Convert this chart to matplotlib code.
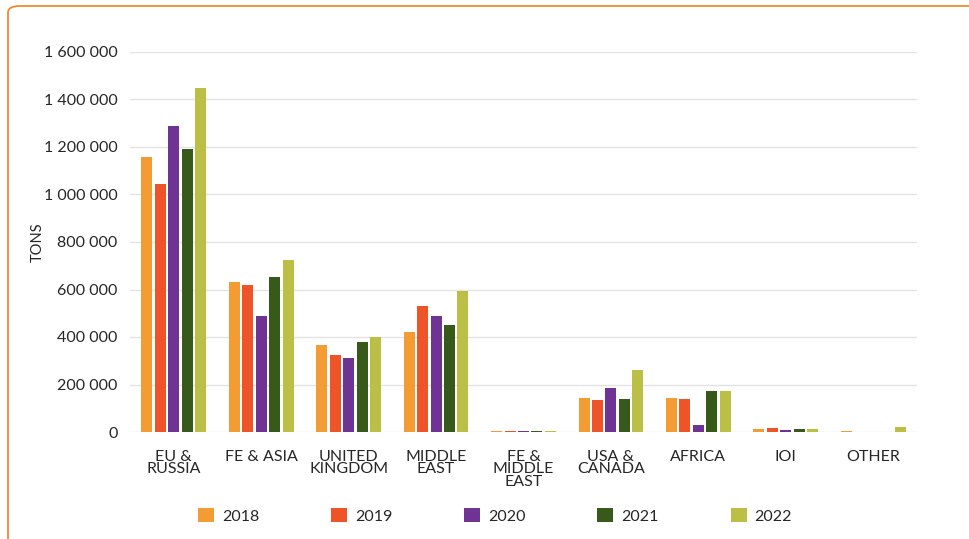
import numpy as np
import matplotlib
matplotlib.use("Agg")
import matplotlib.pyplot as plt
from matplotlib.patches import FancyBboxPatch, Patch
from matplotlib.ticker import FuncFormatter, MultipleLocator

plt.rcParams["font.family"] = ["Lato", "DejaVu Sans"]

regions = ["EU &\nRUSSIA", "FE & ASIA", "UNITED\nKINGDOM", "MIDDLE\nEAST",
           "FE &\nMIDDLE\nEAST", "USA &\nCANADA", "AFRICA", "IOI", "OTHER"]
years = ["2018", "2019", "2020", "2021", "2022"]

tons_2018 = [1157000, 630000, 367000, 421000, 5000, 144000, 144000, 13000, 4000]
tons_2019 = [1046000, 619000, 323000, 532000, 5000, 133000, 139000, 18000, 0]
tons_2020 = [1288000, 489000, 312000, 489000, 5000, 186000, 28000, 7000, 0]
tons_2021 = [1190000, 652000, 379000, 451000, 5000, 139000, 171000, 13000, 0]
tons_2022 = [1447000, 724000, 400000, 592000, 5000, 263000, 171000, 13000, 22000]
series = [tons_2018, tons_2019, tons_2020, tons_2021, tons_2022]

colors = ["#F39C34", "#EE5428", "#6F3493", "#375A1B", "#BBBF45"]
TEXT = "#262626"

fig = plt.figure(figsize=(9.69, 5.39), dpi=100)
fig.patch.set_facecolor("white")

# orange rounded frame, runs off the right/bottom edge
frame = FancyBboxPatch((8 / 969, -0.05), 1.1, 1.05 - 6 / 539,
                       boxstyle="round,pad=0,rounding_size=0.012",
                       transform=fig.transFigure, facecolor="none",
                       edgecolor="#F08A2C", linewidth=1.3)
fig.patches.append(frame)

ax = fig.add_axes([130 / 969, 1 - 432 / 539, 787 / 969, 380 / 539])

x = np.arange(len(regions))
step = 0.154
width = 0.126
for i, (vals, c) in enumerate(zip(series, colors)):
    ax.bar(x + (i - 2) * step, vals, width=width, color=c, zorder=3)

ax.set_xlim(-0.5, len(regions) - 0.5)
ax.set_ylim(0, 1600000)
ax.yaxis.set_major_locator(MultipleLocator(200000))
ax.yaxis.set_major_formatter(FuncFormatter(lambda v, p: f"{int(v):,}".replace(",", " ")))
ax.grid(axis="y", color="#E3E3E3", linewidth=1, zorder=0)
ax.set_axisbelow(True)
for s in ax.spines.values():
    s.set_visible(False)

ax.set_xticks(x)
ax.set_xticklabels(regions, linespacing=0.85, va="top")
ax.tick_params(axis="x", length=0, pad=13, labelsize=11.5, labelcolor=TEXT)
ax.tick_params(axis="y", length=0, pad=9, labelsize=11.5, labelcolor=TEXT)

ax.set_ylabel("TONS", fontsize=10.5, color=TEXT)
ax.yaxis.set_label_coords(-0.108, 0.5)

handles = [Patch(facecolor=c, label=y) for c, y in zip(colors, years)]
fig.legend(handles=handles, loc="center", bbox_to_anchor=(495 / 969, 1 - 516 / 539),
           ncol=5, frameon=False, fontsize=11.5, handlelength=1.0, handleheight=1.0,
           handletextpad=0.5, columnspacing=4.5, labelcolor=TEXT)

fig.savefig("out.png", dpi=100)
